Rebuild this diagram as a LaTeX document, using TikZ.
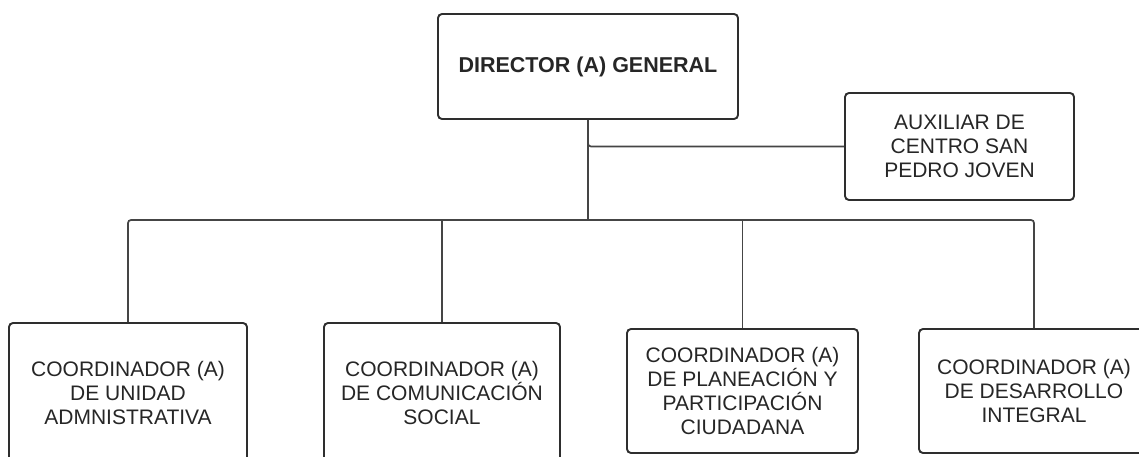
\documentclass[tikz,border=0pt]{standalone}
\usepackage{fontspec}
\setmainfont{Liberation Sans}
\begin{document}
\begin{tikzpicture}[x=1pt,y=-1pt,
  box/.style={draw=boxline, line width=1.9pt, rounded corners=4pt, inner sep=0pt,
    align=center, font=\fontsize{21}{24}\selectfont, text=textcol},
  conn/.style={draw=connline, line width=1.7pt, rounded corners=3pt}]
\definecolor{boxline}{HTML}{2E2E2E}
\definecolor{connline}{HTML}{454545}
\definecolor{textcol}{HTML}{262626}
\useasboundingbox (0,0) rectangle (1139,457);
\clip (0,0) rectangle (1139,457);
\fill[white] (0,0) rectangle (1139,457);
\node[box, minimum width=300pt, minimum height=105pt, font=\fontsize{21.5}{24}\selectfont\bfseries] (dir) at (588,66.5) {\raisebox{3pt}{DIRECTOR (A) GENERAL}};
\node[box, minimum width=229pt, minimum height=107pt] (aux) at (959.5,146.5) {AUXILIAR DE\\CENTRO SAN\\PEDRO JOVEN};
\node[box, minimum width=238pt, minimum height=139pt] (c1) at (128,392.5) {COORDINADOR (A)\\DE UNIDAD\\ADMNISTRATIVA};
\node[box, minimum width=236pt, minimum height=139pt] (c2) at (442,392.5) {COORDINADOR (A)\\DE COMUNICACIÓN\\SOCIAL};
\node[box, minimum width=231pt, minimum height=124pt] (c3) at (742.5,391) {COORDINADOR (A)\\DE PLANEACIÓN Y\\PARTICIPACIÓN\\CIUDADANA};
\node[box, minimum width=230pt, minimum height=124pt] (c4) at (1034,391) {COORDINADOR (A)\\DE DESARROLLO\\INTEGRAL};
\coordinate (bus) at (588,220);
\draw[conn] (dir.south) |- (aux.west);
\draw[conn] (dir.south) -- (bus);
\draw[conn] (c1.north) |- (bus) -| (c4.north);
\draw[conn] (c2.north) -- (c2.north |- bus);
\draw[conn] (c3.north) -- (c3.north |- bus);
\end{tikzpicture}
\end{document}
